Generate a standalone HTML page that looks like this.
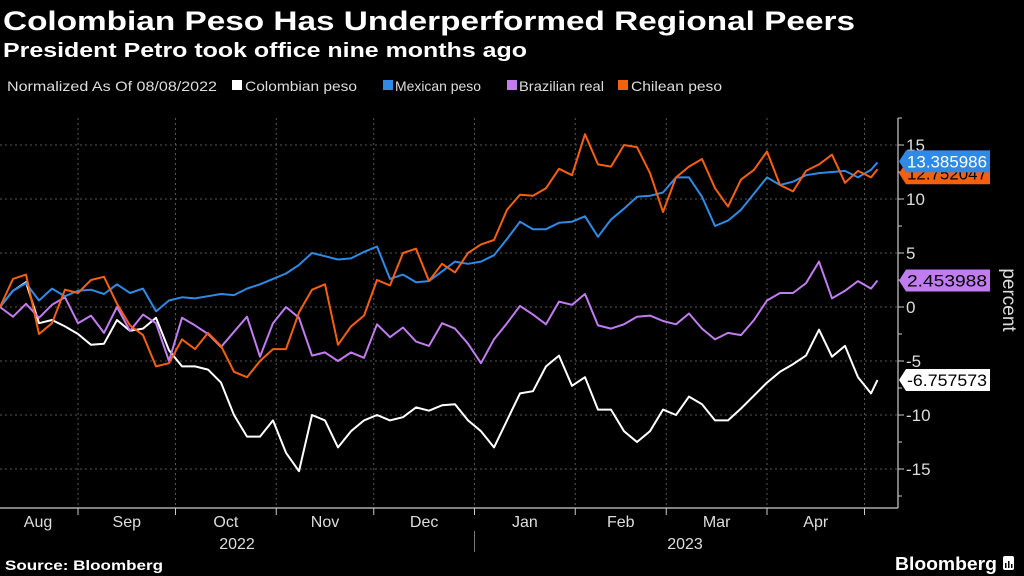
<!DOCTYPE html>
<html><head><meta charset="utf-8"><style>
html,body{margin:0;padding:0;background:#000;}
svg{display:block;font-family:"Liberation Sans",sans-serif;}
</style></head><body>
<svg id="chart" width="1024" height="576" viewBox="0 0 1024 576" xmlns="http://www.w3.org/2000/svg">
<rect width="1024" height="576" fill="#000"/>
<text x="3" y="30" fill="#fff" font-size="27" font-weight="bold" textLength="852" lengthAdjust="spacingAndGlyphs">Colombian Peso Has Underperformed Regional Peers</text>
<text x="3" y="57" fill="#fff" font-size="20" font-weight="bold" textLength="524" lengthAdjust="spacingAndGlyphs">President Petro took office nine months ago</text>
<g font-size="14" fill="#ddd">
<text x="7" y="91" textLength="210" lengthAdjust="spacingAndGlyphs">Normalized As Of 08/08/2022</text>
<g><rect x="232" y="80" width="10" height="10" fill="#fff"/><text x="245" y="91" textLength="112" lengthAdjust="spacingAndGlyphs">Colombian peso</text></g>
<g><rect x="383" y="80" width="10" height="10" fill="#2f8ae6"/><text x="395" y="91" textLength="86" lengthAdjust="spacingAndGlyphs">Mexican peso</text></g>
<g><rect x="507" y="80" width="10" height="10" fill="#c17cf0"/><text x="519" y="91" textLength="85" lengthAdjust="spacingAndGlyphs">Brazilian real</text></g>
<g><rect x="618" y="80" width="10" height="10" fill="#f5600f"/><text x="631" y="91" textLength="91" lengthAdjust="spacingAndGlyphs">Chilean peso</text></g>
</g>
<g id="grid"></g>
<g id="axes"></g>
<g id="series"></g>
<g id="labels"></g>
<text transform="translate(1003,300) rotate(90)" fill="#ddd" font-size="19" text-anchor="middle">percent</text>
<text x="5" y="570" fill="#fff" font-size="14" font-weight="bold" textLength="158" lengthAdjust="spacingAndGlyphs">Source: Bloomberg</text>
<g>
<text x="895" y="570" fill="#fff" font-size="18" font-weight="bold" textLength="102" lengthAdjust="spacingAndGlyphs">Bloomberg</text>
<rect x="1003" y="556" width="11" height="14" rx="2" fill="#fff"/>
<rect x="1005" y="563" width="1.5" height="5" fill="#000"/><rect x="1008" y="561" width="1.5" height="7" fill="#000"/><rect x="1011" y="564" width="1.5" height="4" fill="#000"/>
</g>
</svg>
<script>
// days since 08/08/2022
const days = [0,4,8,12,16,20,24,28,32,36,40,44,48,52,56,60,64,68,72,76,80,84,88,92,96,100,104,108,112,116,120,124,128,132,136,140,144,148,152,156,160,164,168,172,176,180,184,188,192,196,200,204,208,212,216,220,224,228,232,236,240,244,248,252,256,260,264,268,270];
const colombian = [0,1.5,2.3,-1.5,-1.2,-1.8,-2.5,-3.5,-3.4,-1.2,-2.2,-2.0,-1.0,-4.0,-5.5,-5.5,-5.8,-7,-10,-12,-12,-10.5,-13.5,-15.2,-10,-10.5,-13,-11.5,-10.5,-10,-10.5,-10.2,-9.3,-9.6,-9.1,
 -9.0,-10.5,-11.5,-13,-10.5,-8.0,-7.8,-5.5,-4.5,-7.3,-6.5,-9.5,-9.5,-11.5,-12.5,-11.5,-9.5,-10,-8.3,-9,-10.5,-10.5,-9.4,-8.2,-7,-6,-5.3,-4.5,-2.1,-4.6,-3.6,-6.5,-8,-6.757573];
const mexican = [0,1.5,2.2,0.6,1.7,1.0,1.5,1.6,1.2,2.1,1.3,1.7,-0.4,0.6,0.9,0.8,1.0,1.2,1.1,1.7,2.1,2.6,3.1,3.9,5.0,4.7,4.4,4.5,5.1,5.6,2.6,3.0,2.3,2.4,3.3,
 4.2,4.0,4.2,4.8,6.3,7.9,7.2,7.2,7.8,7.9,8.4,6.5,8.1,9.1,10.2,10.3,10.6,12.0,12.0,10.2,7.5,8.0,9.0,10.5,12.0,11.3,11.6,12.2,12.4,12.5,12.6,12.0,12.7,13.385986];
const brazilian = [0,-0.9,0.3,-1.0,0.2,0.9,-1.5,-0.8,-2.4,0.0,-2.2,-0.7,-1.5,-5.0,-1.0,-1.7,-2.5,-3.7,-2.3,-0.9,-4.6,-1.5,0.0,-1.0,-4.5,-4.2,-5.0,-4.2,-4.7,-1.6,-2.8,-1.9,-3.2,-3.6,-1.5,
 -2.0,-3.4,-5.2,-3.0,-1.5,0.1,-0.7,-1.6,0.5,0.2,1.2,-1.7,-2.0,-1.6,-0.9,-0.8,-1.3,-1.6,-0.6,-2.0,-3.0,-2.4,-2.6,-1.2,0.6,1.3,1.3,2.2,4.2,0.8,1.5,2.4,1.7,2.453988];
const chilean = [0,2.6,3.0,-2.5,-1.5,1.6,1.3,2.5,2.8,0.3,-1.7,-2.6,-5.5,-5.2,-3.0,-3.9,-2.4,-3.6,-6.0,-6.5,-5.0,-3.9,-3.9,-0.5,1.6,2.1,-3.5,-1.8,-0.8,2.5,2.0,5.0,5.4,2.4,4.0,
 3.2,5.0,5.8,6.2,9.0,10.4,10.3,11.0,12.8,12.2,16.0,13.2,13.0,15.0,14.8,12.4,8.8,12.0,13.0,13.7,11.0,9.3,11.8,12.7,14.4,11.3,10.7,12.6,13.2,14.1,11.5,12.6,12.0,12.752047];
const yTicks = [15,10,5,0,-5,-10,-15];
const yMinorTicks = [17.5,12.5,7.5,2.5,-2.5,-7.5,-12.5,-17.5];
const monthLabels = ["Aug","Sep","Oct","Nov","Dec","Jan","Feb","Mar","Apr"];
const monthStartDays = [-7,24,54,85,115,146,177,205,236,266];
const yearLabels = ["2022","2023"];

const NS="http://www.w3.org/2000/svg";
const X0=0, PX_PER_DAY=3.25, Y0=307, PX_PER_UNIT=10.8, AXIS_X=898, TOP=118, BOTTOM=508;
const xs = d => X0 + d*PX_PER_DAY;
const ys = v => Y0 - v*PX_PER_UNIT;
function mk(tag, attrs, parent){const e=document.createElementNS(NS,tag);for(const k in attrs)e.setAttribute(k,attrs[k]);parent.appendChild(e);return e;}
const grid=document.getElementById('grid'), axes=document.getElementById('axes'), series=document.getElementById('series'), labels=document.getElementById('labels');

yTicks.forEach(v=>{
  const l=mk('line',{x1:0,x2:AXIS_X,y1:ys(v),y2:ys(v),stroke:'#555','stroke-dasharray':'2,3','stroke-width':1},grid);
  
  
  const t=mk('line',{x1:AXIS_X,x2:AXIS_X+6,y1:ys(v),y2:ys(v),stroke:'#ccc','stroke-width':1},axes);
  
  
  const tx=mk('text',{x:AXIS_X+8,y:ys(v)+6,fill:'#ddd','font-size':17},axes);
  tx.textContent=String(v);
  
  
});
yMinorTicks.forEach(v=>{
  const t=mk('line',{x1:AXIS_X,x2:AXIS_X+4,y1:ys(v),y2:ys(v),stroke:'#ccc','stroke-width':1},axes);
  
  
});
monthStartDays.forEach((d,i)=>{
  if(i===0) return;
  const x=xs(d);
  const g=mk('line',{x1:x,x2:x,y1:TOP,y2:BOTTOM,stroke:'#555','stroke-dasharray':'2,3','stroke-width':1},grid);
  
  
  const t=mk('line',{x1:x,x2:x,y1:BOTTOM,y2:BOTTOM+7,stroke:'#ccc','stroke-width':1},axes);
  
  
});
monthLabels.forEach((m,i)=>{
  const x=(xs(Math.max(monthStartDays[i],-10))+xs(monthStartDays[i+1]))/2;
  const cx = i===0 ? 38 : x;
  const t=mk('text',{x:cx,y:527,fill:'#ddd','font-size':16,'text-anchor':'middle'},axes);
  t.textContent=m;
  
  
});
[[yearLabels[0],237],[yearLabels[1],685]].forEach(([y,x])=>{
  const t=mk('text',{x:x,y:549,fill:'#ddd','font-size':16,'text-anchor':'middle'},axes);
  t.textContent=y;
  
  
});
const dv=mk('line',{x1:xs(146),x2:xs(146),y1:531,y2:552,stroke:'#777','stroke-width':1},axes);


const xa=mk('line',{x1:0,x2:AXIS_X,y1:BOTTOM,y2:BOTTOM,stroke:'#ccc','stroke-width':1.2},axes);


const ya=mk('line',{x1:AXIS_X,x2:AXIS_X,y1:TOP,y2:BOTTOM,stroke:'#ccc','stroke-width':1.2},axes);



function drawLine(vals,color,name){
  const pts=vals.map((v,i)=>xs(days[i]).toFixed(1)+','+ys(v).toFixed(1)).join(' ');
  const p=mk('polyline',{points:pts,fill:'none',stroke:color,'stroke-width':2,'stroke-linejoin':'round'},series);
  
  
}
drawLine(colombian,'#ffffff','colombian-peso-line');
drawLine(brazilian,'#c17cf0','brazilian-real-line');
drawLine(mexican,'#2f8ae6','mexican-peso-line');
drawLine(chilean,'#f5600f','chilean-peso-line');

function tag(v,bg,fg,name,offset){
  const y=ys(v)+(offset||0);
  const g=mk('g',{},labels);
  
  
  mk('polygon',{points:`${AXIS_X+1},${y} ${AXIS_X+8},${y-11} ${AXIS_X+92},${y-11} ${AXIS_X+92},${y+11} ${AXIS_X+8},${y+11}`,fill:bg},g);
  const t=mk('text',{x:AXIS_X+9,y:y+6,fill:fg,'font-size':17,textLength:80,lengthAdjust:'spacingAndGlyphs'},g);
  t.textContent=v.toFixed(6);
}
tag(chilean[chilean.length-1],'#f5600f','#000','chilean-value-label',4);
tag(mexican[mexican.length-1],'#2f8ae6','#fff','mexican-value-label',-1);
tag(brazilian[brazilian.length-1],'#c17cf0','#000','brazilian-value-label',0);
tag(colombian[colombian.length-1],'#ffffff','#000','colombian-value-label',0);
</script>
</body></html>
